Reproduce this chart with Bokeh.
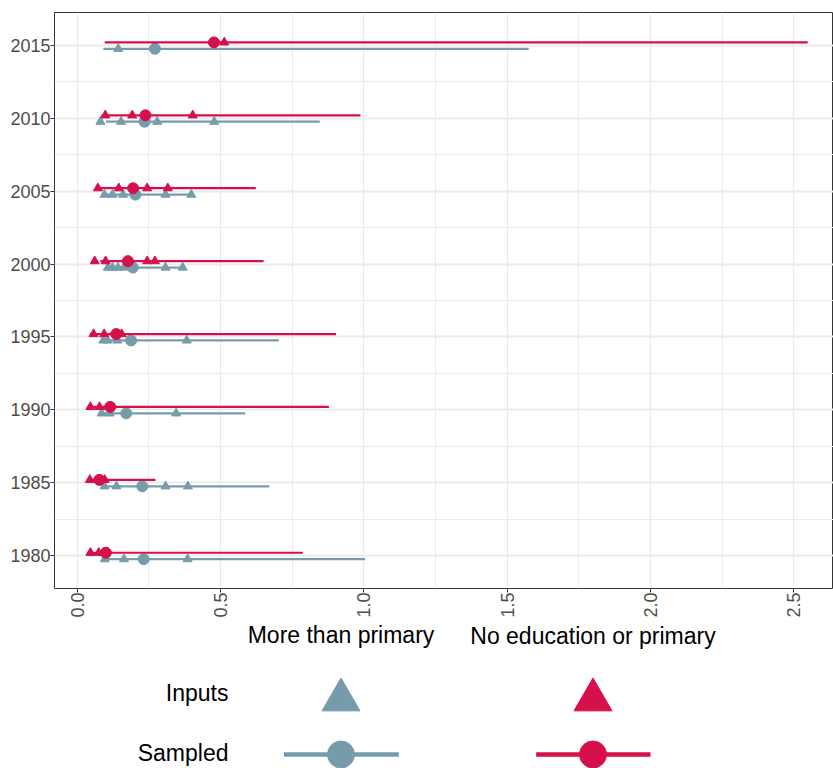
import math
from bokeh.plotting import figure
from bokeh.models import Range1d, FixedTicker, ColumnDataSource
from bokeh.layouts import column
from bokeh.embed import file_html
from bokeh.resources import INLINE
from bokeh.core.properties import value

# ---------------- data ----------------
years = [1980, 1985, 1990, 1995, 2000, 2005, 2010, 2015]
groups = ["More than primary", "No education or primary"]
colors = ["#769CAC", "#D5104A"]
row_labels = ["Inputs", "Sampled"]

# More than primary (blue)
sampled_more = [0.232, 0.227, 0.171, 0.188, 0.194, 0.203, 0.235, 0.271]
low_more = [0.096, 0.085, 0.081, 0.087, 0.100, 0.093, 0.100, 0.091]
high_more = [1.004, 0.670, 0.586, 0.703, 0.368, 0.398, 0.846, 1.575]
inputs_more = [
    [0.096, 0.163, 0.385],
    [0.095, 0.137, 0.308, 0.386],
    [0.085, 0.113, 0.345],
    [0.091, 0.106, 0.140, 0.382],
    [0.107, 0.123, 0.142, 0.163, 0.308, 0.368],
    [0.095, 0.123, 0.160, 0.308, 0.398],
    [0.081, 0.153, 0.279, 0.478],
    [0.143],
]

# No education or primary (red)
sampled_noedu = [0.100, 0.077, 0.115, 0.136, 0.177, 0.195, 0.238, 0.477]
low_noedu = [0.037, 0.035, 0.037, 0.044, 0.081, 0.081, 0.085, 0.096]
high_noedu = [0.787, 0.273, 0.878, 0.903, 0.650, 0.623, 0.988, 2.548]
inputs_noedu = [
    [0.046, 0.075, 0.093],
    [0.044, 0.073, 0.096],
    [0.046, 0.078, 0.110],
    [0.057, 0.094, 0.155],
    [0.061, 0.099, 0.244, 0.271],
    [0.072, 0.145, 0.244, 0.316],
    [0.098, 0.192, 0.403],
    [0.513],
]

x_ticks = [0.0, 0.5, 1.0, 1.5, 2.0, 2.5]
x_minor = [0.25, 0.75, 1.25, 1.75, 2.25, 2.75]
y_minor = [1977.5, 1982.5, 1987.5, 1992.5, 1997.5, 2002.5, 2007.5, 2012.5, 2017.5]

dodge = {"More than primary": -0.24, "No education or primary": 0.2}
FONT = "Liberation Sans"

# ---------------- main plot ----------------
p = figure(width=833, height=620,
           x_range=Range1d(-0.0792, 2.638), y_range=Range1d(1977.75, 2017.25),
           output_backend="svg", toolbar_location=None,
           min_border_left=54, min_border_right=0, min_border_top=12, min_border_bottom=32)
p.background_fill_color = "white"
p.border_fill_color = "white"
p.outline_line_color = "#333333"
p.outline_line_width = 1

series = [
    (groups[0], colors[0], sampled_more, low_more, high_more, inputs_more),
    (groups[1], colors[1], sampled_noedu, low_noedu, high_noedu, inputs_noedu),
]

for name, col, samp, lo, hi, inp in series:
    off = dodge[name]
    ix, iy = [], []
    for yr, vals in zip(years, inp):
        for v in vals:
            ix.append(v)
            iy.append(yr + off)
    p.scatter(x=ix, y=iy, marker="triangle", size=9, color=col)
    src = ColumnDataSource(dict(y=[yr + off for yr in years], lo=lo, hi=hi, s=samp))
    p.segment(x0="lo", x1="hi", y0="y", y1="y", source=src, line_color=col, line_width=2.2)
    p.scatter(x="s", y="y", source=src, marker="circle", size=11, color=col)

p.xaxis.ticker = FixedTicker(ticks=x_ticks, minor_ticks=x_minor)
p.yaxis.ticker = FixedTicker(ticks=years, minor_ticks=y_minor)

p.xgrid.grid_line_color = "#EBEBEB"
p.xgrid.grid_line_width = 1.2
p.xgrid.minor_grid_line_color = "#EBEBEB"
p.xgrid.minor_grid_line_width = 1.0
p.ygrid.grid_line_color = "#EBEBEB"
p.ygrid.grid_line_width = 1.8
p.ygrid.minor_grid_line_color = "#EBEBEB"
p.ygrid.minor_grid_line_width = 1.0

for ax in (p.xaxis[0], p.yaxis[0]):
    ax.axis_line_color = None
    ax.major_tick_line_color = "#333333"
    ax.major_tick_out = 4
    ax.major_tick_in = 0
    ax.minor_tick_line_color = None
    ax.major_label_text_font = FONT
    ax.major_label_text_font_size = "18px"
    ax.major_label_text_color = "#4D4D4D"
    ax.major_label_standoff = 0

p.xaxis.major_label_orientation = math.pi / 2
p.xaxis.major_label_overrides = {v: f"{v:.1f}" for v in x_ticks}

# ---------------- legend panel ----------------
leg = figure(width=833, height=148, x_range=Range1d(54, 833), y_range=Range1d(768, 620),
             output_backend="svg", toolbar_location=None,
             min_border_left=54, min_border_right=0, min_border_top=0, min_border_bottom=0,
             x_axis_type=None, y_axis_type=None)
leg.outline_line_color = None
leg.background_fill_color = "white"
leg.border_fill_color = "white"

col_x = [340.5, 592.5]
leg.text(x=col_x, y=[634, 635.5], text=groups, text_align="center",
         text_baseline="alphabetic", text_font=value(FONT), text_font_size="23px",
         text_color="black")
leg.text(x=[228, 228], y=[692, 752.5], text=row_labels, text_align="right",
         text_baseline="alphabetic", text_font=value(FONT), text_font_size="23px",
         text_color="black")
leg.scatter(x=col_x, y=[699.4, 699.4], marker="triangle", size=38, color=colors)
leg.segment(x0=[283.5, 535.7], x1=[398.3, 650], y0=[754, 754], y1=[754, 754],
            line_color=colors, line_width=4.5)
leg.scatter(x=col_x, y=[754, 754], marker="circle", size=27, color=colors)

layout = column(p, leg, spacing=0)
open("out.html", "w").write(file_html(layout, INLINE))
